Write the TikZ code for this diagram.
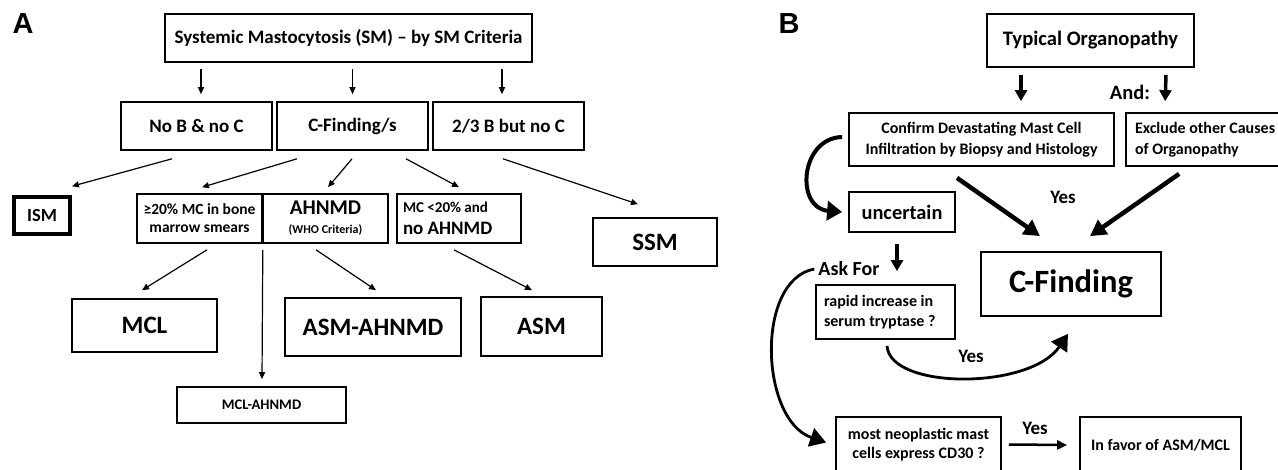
\documentclass[tikz,border=0pt]{standalone}
\usepackage{fontspec}
\setmainfont{Carlito}
\newfontfamily\panelfont{Liberation Sans}
\usetikzlibrary{arrows.meta,calc}
\newcommand\fsz[2]{\fontsize{#1}{#2}\selectfont}
\tikzset{
  boxA/.style={draw, line width=1.6pt, inner sep=0pt, align=center},
  boxB/.style={draw, line width=1.8pt, inner sep=0pt, align=center},
  lbl/.style={inner sep=0pt},
  arrA/.style={line width=1.2pt, -{Triangle[length=7pt,width=6pt]}},
  arrB/.style={line width=3.5pt, -{Triangle[length=11pt,width=12pt]}},
  arrBig/.style={line width=4.5pt, -{Triangle[length=16pt,width=17pt]}},
  curv/.style={line width=4pt, -{Triangle[length=15pt,width=19pt]}},
  curvthin/.style={line width=2.8pt, -{Triangle[length=16pt,width=19pt]}},
  arrYes/.style={line width=2.5pt, -{Triangle[length=10pt,width=9pt]}}
}
\begin{document}
\begin{tikzpicture}[x=1pt,y=-1pt]
\useasboundingbox (0,0) rectangle (1278,469);
\clip (0,0) rectangle (1278,469);

% ---------------- Panel A ----------------
\node[lbl, font=\panelfont\bfseries\fsz{29}{30}] (labA) at (23,23.5) {A};

\node[boxA, minimum width=367pt, minimum height=48pt, font=\bfseries\fsz{19}{22}] (top) at (348.5,38) {Systemic Mastocytosis (SM) – by SM Criteria};

\node[boxA, minimum width=151pt, minimum height=48pt, font=\bfseries\fsz{19}{22}] (noBC) at (196.5,126) {No B \& no C};
\node[boxA, minimum width=151pt, minimum height=48pt, font=\bfseries\fsz{19}{22}] (CF) at (352.5,126) {C-Finding/s};
\node[boxA, minimum width=151pt, minimum height=48pt, font=\bfseries\fsz{19}{22}] (B23) at (508.5,126) {2/3 B but no C};

\node[boxA, line width=3.5pt, minimum width=56pt, minimum height=37pt, font=\bfseries\fsz{18.5}{20}] (ISM) at (42,215.5) {ISM};
\node[boxA, minimum width=125pt, minimum height=49pt, font=\bfseries\fsz{15.5}{18}] (ge20) at (199.5,218.5) {≥20\% MC in bone\\marrow smears};
\node[boxA, minimum width=125pt, minimum height=49pt, font=\bfseries\fsz{12}{19}] (AHNMD) at (325.5,218.5) {{\fsz{21}{19}AHNMD}\\(WHO Criteria)};
\node[boxA, minimum height=49pt, inner xsep=6pt, text width=112pt, align=flush left, font=\bfseries\fsz{19}{22}] (MC20) at (459,218.5) {{\fsz{15}{22}MC <20\% and}\\no AHNMD};
\node[boxA, minimum width=124pt, minimum height=48pt, font=\bfseries\fsz{25}{27}] (SSM) at (655,242) {SSM};

\node[boxA, minimum width=145pt, minimum height=53pt, font=\bfseries\fsz{25}{27}] (MCL) at (144.5,325.5) {MCL};
\node[boxA, minimum width=169pt, minimum height=36pt, font=\bfseries\fsz{14.6}{16}] (MCLAHNMD) at (261.5,405) {MCL-AHNMD};
\node[boxA, minimum width=176pt, minimum height=58pt, font=\bfseries\fsz{25}{27}] (ASMAHNMD) at (373,327) {ASM-AHNMD};
\node[boxA, minimum width=121pt, minimum height=59pt, font=\bfseries\fsz{25}{27}] (ASM) at (541.5,326.5) {ASM};

\draw[arrA] ([shift={(-147.5,6)}]top.south) -- ([shift={(4.5,-7)}]noBC.north);
\draw[arrA] ([shift={(4,6)}]top.south) -- ([shift={(0,-7)}]CF.north);
\draw[arrA] ([shift={(153.5,6)}]top.south) -- ([shift={(-6.5,-7)}]B23.north);

\draw[arrA] ([shift={(-24.5,8)}]noBC.south) -- ([shift={(30,-9)}]ISM.north);
\draw[arrA] ([shift={(-55.5,8)}]CF.south) -- ([shift={(2.5,-6)}]ge20.north);
\draw[arrA] ([shift={(-0.5,8)}]CF.south) -- ([shift={(2.5,-6)}]AHNMD.north);
\draw[arrA] ([shift={(53.5,8)}]CF.south) -- ([shift={(0,-6)}]MC20.north);
\draw[arrA] ([shift={(-5.5,8)}]B23.south) -- ([shift={(-17,-13)}]SSM.north);

\draw[arrA] ([shift={(7.5,6)}]ge20.south) -- ([shift={(-2.5,-8)}]MCL.north);
\draw[arrA] ([shift={(0,6)}]ge20.south east) -- ([shift={(0.5,-7)}]MCLAHNMD.north);
\draw[arrA] ([shift={(-9.5,6)}]AHNMD.south) -- ([shift={(3,-7)}]ASMAHNMD.north);
\draw[arrA] ([shift={(-5,6)}]MC20.south) -- ([shift={(-9.5,-6)}]ASM.north);

% ---------------- Panel B ----------------
\node[lbl, font=\panelfont\bfseries\fsz{29}{30}] (labB) at (789,23.5) {B};

\node[boxB, minimum width=207pt, minimum height=53pt, font=\bfseries\fsz{20.6}{23}] (TO) at (1090.5,40.5) {Typical Organopathy};
\node[lbl, font=\bfseries\fsz{20.5}{22}] (and) at (1130,92) {And:};
\node[boxB, minimum width=265pt, minimum height=53pt, font=\bfseries\fsz{16}{21}] (Confirm) at (981.5,139.5) {Confirm Devastating Mast Cell\\Infiltration by Biopsy and Histology};
\node[boxB, minimum height=53pt, inner xsep=9pt, text width=146pt, align=flush left, font=\bfseries\fsz{16}{21}] (Exclude) at (1208,139.5) {Exclude other Causes\\of Organopathy};
\node[lbl, font=\bfseries\fsz{19}{21}] (yes1) at (1063,197) {Yes};

\node[boxB, minimum width=106pt, minimum height=40pt, font=\bfseries\fsz{20.4}{22}] (uncertain) at (902,212) {uncertain};
\node[lbl, font=\bfseries\fsz{20}{22}] (ask) at (849,269) {Ask For};
\node[boxB, minimum height=54pt, inner xsep=8pt, text width=123pt, align=flush left, font=\bfseries\fsz{16}{20}] (rapid) at (885.5,312) {rapid increase in\\serum tryptase ?};
\node[boxB, minimum width=180pt, minimum height=64pt, font=\bfseries\fsz{32.5}{34}] (CFind) at (1071,284) {C-Finding};
\node[lbl, font=\bfseries\fsz{19}{21}] (yes2) at (971,356) {Yes};

\node[boxB, minimum width=165pt, minimum height=55pt, font=\bfseries\fsz{16}{19}] (neo) at (918.5,444.5) {most neoplastic mast\\cells express CD30 ?};
\node[lbl, font=\bfseries\fsz{19}{21}] (yes3) at (1035,428) {Yes};
\node[boxB, minimum width=161pt, minimum height=56pt, font=\bfseries\fsz{16}{19}] (favor) at (1160.5,445) {In favor of ASM/MCL};

\draw[arrB] ([shift={(-69.5,7)}]TO.south) -- ([shift={(39.5,-11)}]Confirm.north);
\draw[arrB] ([shift={(75.5,7)}]TO.south) -- ([shift={(40,-11)}]Exclude.north west);
\draw[arrBig] ([shift={(-24.5,11)}]Confirm.south) -- ([shift={(-31,-15)}]CFind.north);
\draw[arrBig] ([shift={(54,7)}]Exclude.south west) -- ([shift={(19,-15)}]CFind.north);
\draw[curv] ([shift={(-6,-2.5)}]Confirm.west) .. controls (800,138) and (795,208) .. ([shift={(-6,0)}]uncertain.west);
\draw[arrB] ([shift={(-5,11)}]uncertain.south) -- ([shift={(11.5,-13)}]rapid.north);
\draw[curvthin] ([shift={(-4,0)}]ask.west) .. controls (755,280) and (760,420) .. ([shift={(-9,-2)}]neo.west);
\draw[curvthin] ([shift={(1.5,6)}]rapid.south) .. controls (890,390) and (1030,390) .. ([shift={(-3,17)}]CFind.south);
\draw[arrYes] ([shift={(7,0)}]neo.east) -- ([shift={(-12,0)}]favor.west);
\end{tikzpicture}
\end{document}
